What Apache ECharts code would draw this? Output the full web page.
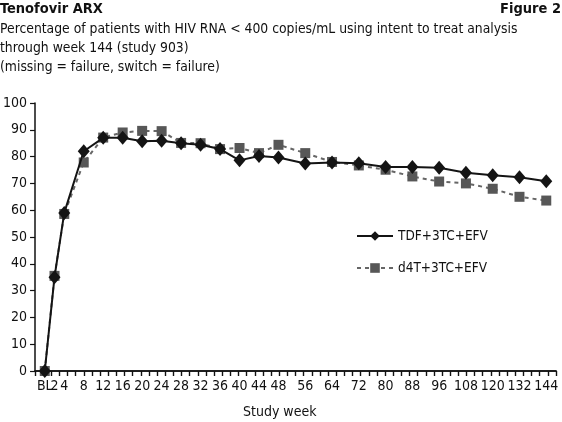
<!DOCTYPE html>
<html>
<head>
<meta charset="utf-8">
<script src="https://cdn.jsdelivr.net/npm/echarts@6/dist/echarts.min.js"></script>
<style>
  html, body { margin: 0; padding: 0; background: #fff; }
  #chart { width: 562px; height: 422px; }
</style>
</head>
<body>
<div id="chart"></div>
<script>
// study weeks on the x axis
const weeks = ['BL', '2', '4', '8', '12', '16', '20', '24', '28', '32', '36', '40', '44', '48',
  '56', '64', '72', '80', '88', '96', '108', '120', '132', '144'];
// % patients with HIV RNA < 400 copies/mL
const tdf = [0, 35, 59, 82, 87, 87, 85.7, 85.9, 85, 84.4, 82.8, 78.6, 80.2, 79.7,
  77.4, 77.8, 77.5, 76.1, 76.1, 75.8, 74, 73, 72.3, 70.8];
const d4t = [0, 35.5, 58.6, 77.8, 87.1, 89, 89.6, 89.5, 85.1, 85, 82.8, 83.2, 81.3, 84.4,
  81.3, 78, 76.7, 75.1, 72.6, 70.7, 70, 68, 65, 63.6];
const yTicks = [0, 10, 20, 30, 40, 50, 60, 70, 80, 90, 100];

const FONT = '"DejaVu Sans Condensed", "Liberation Sans Narrow", sans-serif';

// the x axis is drawn in half-week slots up to week 48, then equal steps
const PAD = 4;
const slotIndex = weeks.map((w, i) => {
  if (i <= 13) return PAD + 2 * (w === 'BL' ? 0 : Number(w));
  return PAD + 96 + 11 * (i - 13);
});
const nSlots = slotIndex[slotIndex.length - 1] + PAD + 1;
const slotLabels = new Array(nSlots).fill('');
slotIndex.forEach((s, i) => { slotLabels[s] = weeks[i]; });

const tdfData = slotIndex.map((s, i) => [s, tdf[i]]);
const d4tData = slotIndex.map((s, i) => [s, d4t[i]]);

const myChart = echarts.init(document.getElementById('chart'));
const option = {
  animation: false,
  backgroundColor: '#fff',
  textStyle: { fontFamily: FONT },
  title: [
    {
      text: 'Tenofovir ARX',
      left: 0, top: 2, padding: 0,
      textStyle: { fontFamily: FONT, fontSize: 14.5, fontWeight: 'bold', color: '#111' },
    },
    {
      text: 'Figure 2',
      right: 1, top: 2, padding: 0,
      textStyle: { fontFamily: FONT, fontSize: 14.5, fontWeight: 'bold', color: '#111' },
    },
    {
      text: 'Percentage of patients with HIV RNA < 400 copies/mL using intent to treat analysis\n'
        + 'through week 144 (study 903)\n(missing = failure, switch = failure)',
      left: 0, top: 20, padding: 0,
      textStyle: { fontFamily: FONT, fontSize: 13.8, fontWeight: 'normal', color: '#111', lineHeight: 19 },
    },
  ],
  graphic: [
    {
      type: 'text',
      left: 243, top: 405,
      style: { text: 'Study week', font: '14px ' + FONT, fill: '#111' },
    },
  ],
  legend: {
    orient: 'vertical',
    left: 351, top: 224,
    itemWidth: 36, itemHeight: 12, itemGap: 18,
    textStyle: { fontFamily: FONT, fontSize: 13.5, color: '#111' },
    data: ['TDF+3TC+EFV', 'd4T+3TC+EFV'],
  },
  grid: { left: 34, right: 6, top: 103, bottom: 51, containLabel: false },
  xAxis: [
    {
      type: 'category',
      data: slotLabels,
      boundaryGap: false,
      position: 'bottom',
      axisLine: { onZero: false, lineStyle: { color: '#111', width: 1.5 } },
      axisTick: { show: false },
      axisLabel: {
        interval: 0, margin: 8,
        fontFamily: FONT, fontSize: 14, color: '#111',
      },
      splitLine: { show: false },
    },
    {
      // evenly spaced minor ticks along the bottom
      type: 'value',
      min: 0, max: 64, interval: 1,
      position: 'bottom',
      axisLine: { show: true, onZero: false, lineStyle: { color: '#111', width: 1.5 } },
      axisTick: { show: true, inside: false, length: 5, lineStyle: { color: '#111', width: 1.4 } },
      axisLabel: { show: false },
      splitLine: { show: false },
    },
  ],
  yAxis: {
    type: 'value',
    min: yTicks[0], max: yTicks[yTicks.length - 1], interval: 10,
    axisLine: { show: true, lineStyle: { color: '#111', width: 1.5 } },
    axisTick: { show: true, length: 5, lineStyle: { color: '#111', width: 1.2 } },
    axisLabel: { margin: 8, fontFamily: FONT, fontSize: 14, color: '#111' },
    splitLine: { show: false },
  },
  series: [
    {
      name: 'd4T+3TC+EFV',
      type: 'line',
      xAxisIndex: 0,
      data: d4tData,
      symbol: 'rect',
      symbolSize: 10,
      itemStyle: { color: '#575757' },
      lineStyle: { color: '#666', width: 2, type: [4, 4] },
      z: 2,
    },
    {
      name: 'TDF+3TC+EFV',
      type: 'line',
      xAxisIndex: 0,
      data: tdfData,
      symbol: 'diamond',
      symbolSize: [12, 14],
      itemStyle: { color: '#141414' },
      lineStyle: { color: '#141414', width: 2 },
      z: 3,
    },
  ],
};
myChart.setOption(option);
</script>
</body>
</html>
